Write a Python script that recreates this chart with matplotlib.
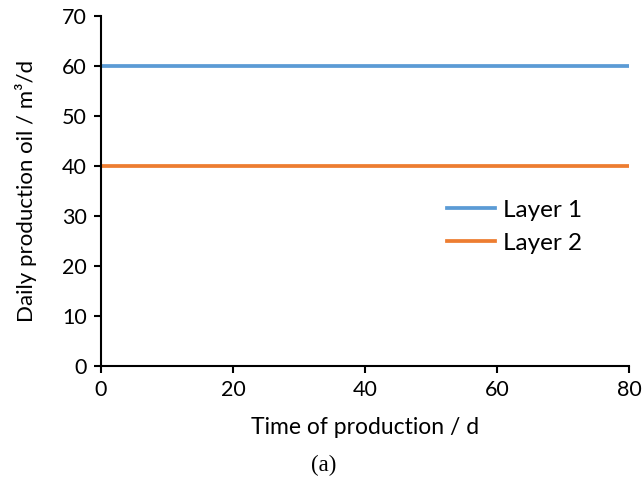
import matplotlib
matplotlib.use("Agg")
import matplotlib.pyplot as plt

time_d = [0, 10, 20, 30, 40, 50, 60, 70, 80]
layer1_oil = [60, 60, 60, 60, 60, 60, 60, 60, 60]
layer2_oil = [40, 40, 40, 40, 40, 40, 40, 40, 40]
series_labels = ["Layer 1", "Layer 2"]
x_ticks = [0, 20, 40, 60, 80]
y_ticks = [0, 10, 20, 30, 40, 50, 60, 70]


def main():
    plt.rcParams["font.family"] = ["Lato", "DejaVu Sans"]
    fig = plt.figure(figsize=(6.44, 4.86), dpi=100)
    ax = fig.add_axes([101 / 644, 1 - 366 / 486, 528 / 644, 350 / 486])

    ax.plot(time_d, layer1_oil, color="#5B9BD5", lw=2.7, label=series_labels[0])
    ax.plot(time_d, layer2_oil, color="#ED7D31", lw=2.7, label=series_labels[1])

    ax.set_xlim(0, 80)
    ax.set_ylim(0, 70)
    ax.set_xticks(x_ticks)
    ax.set_yticks(y_ticks)
    ax.tick_params(direction="out", length=5, width=1.5, labelsize=15.5, pad=5)
    for side in ["top", "right"]:
        ax.spines[side].set_visible(False)
    for side in ["left", "bottom"]:
        ax.spines[side].set_linewidth(1.5)

    ax.set_xlabel("Time of production / d", fontsize=16.5, labelpad=12)
    ax.set_ylabel("Daily production oil / m³/d", fontsize=16, labelpad=18)

    ax.legend(loc="upper left", bbox_to_anchor=(0.655, 0.475), frameon=False,
              fontsize=17.5, handlelength=2.0, handletextpad=0.3, labelspacing=0.5,
              borderpad=0, borderaxespad=0)

    fig.text(324 / 644, 1 - 465 / 486, "(a)", ha="center", va="center",
             fontsize=16.5, family="Liberation Serif")

    fig.savefig("out.png", dpi=100)


if __name__ == "__main__":
    main()
